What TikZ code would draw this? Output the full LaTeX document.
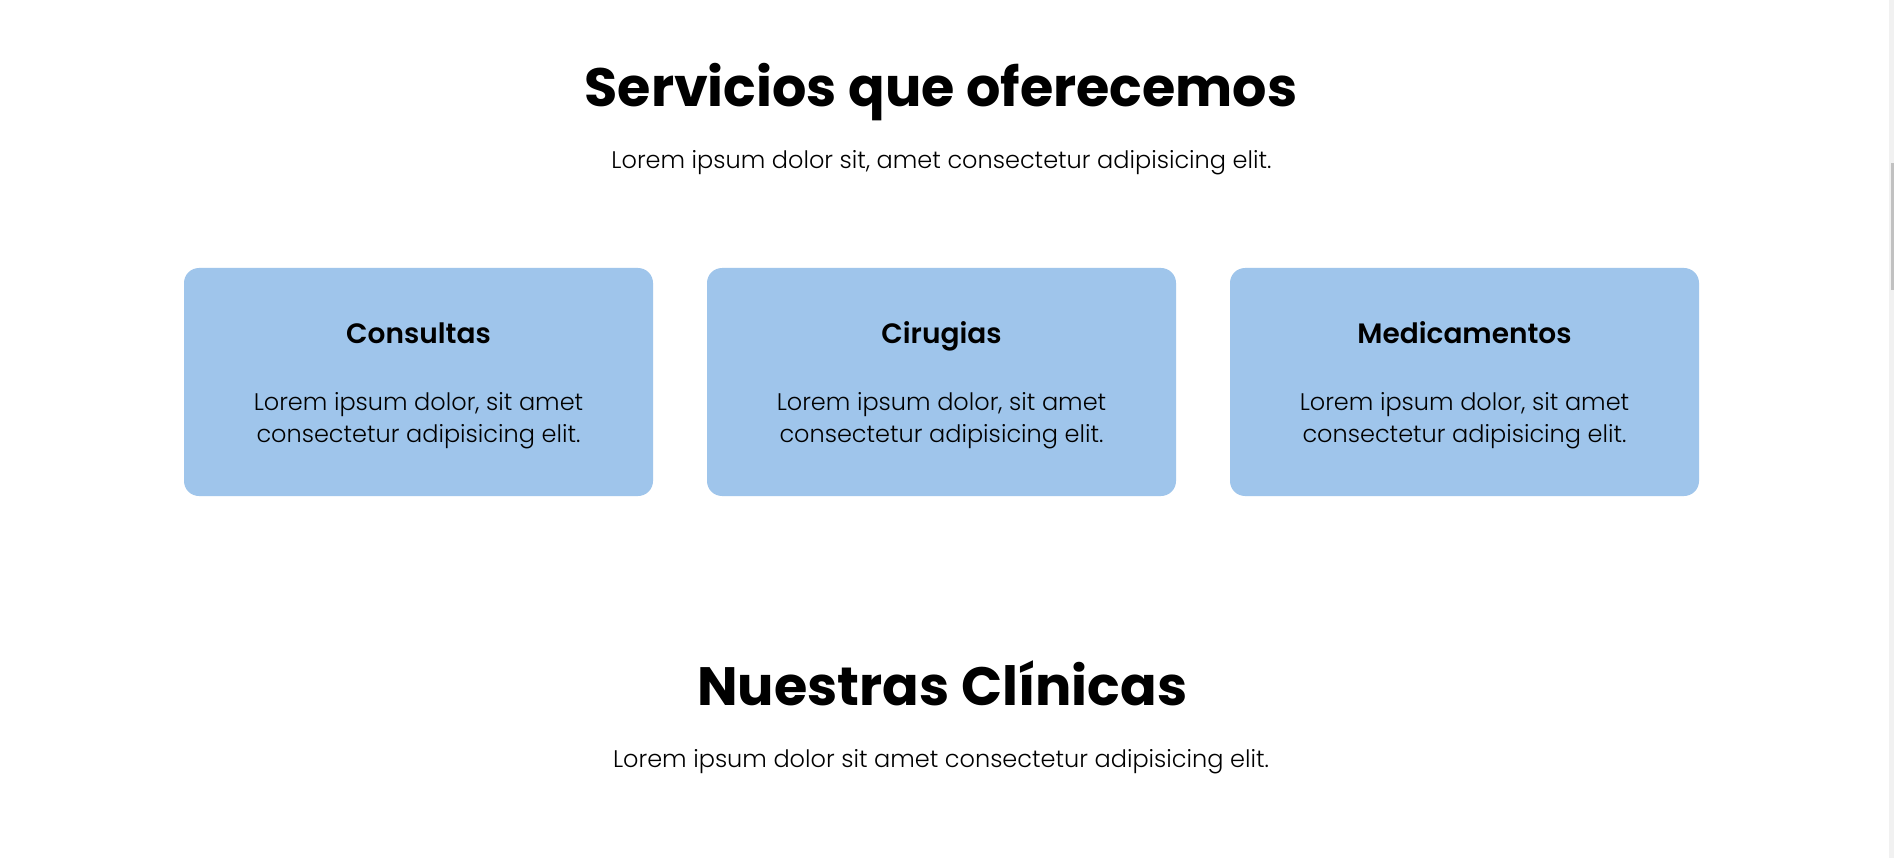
\documentclass[tikz,border=0pt]{standalone}
\usepackage{fontspec}
\setmainfont{Poppins}[UprightFont=* Light, BoldFont=* Bold]
\newfontfamily\semifont{Poppins SemiBold}
\definecolor{cardblue}{HTML}{9FC5EB}
\definecolor{track}{HTML}{F1F1F1}
\definecolor{thumb}{HTML}{C1C1C1}
\tikzset{
  card/.style={fill=cardblue, draw=none, rounded corners=15pt, minimum width=469pt, minimum height=228pt, inner sep=0pt},
  bigtitle/.style={anchor=base, inner sep=0pt, font=\fontsize{54}{60}\selectfont\bfseries},
  subtitle/.style={anchor=base, inner sep=0pt, font=\fontsize{24}{30}\selectfont},
  cardhead/.style={anchor=base, inner sep=0pt, font=\fontsize{28}{34}\semifont},
  cardtext/.style={anchor=base, inner sep=0pt, align=center, font=\fontsize{24}{32.3}\selectfont},
}
\begin{document}
\begin{tikzpicture}[x=1pt,y=-1pt]
\useasboundingbox[fill=white] (0,0) rectangle (1894,858);
% scrollbar
\fill[track] (1889,0) rectangle (1894,858);
\fill[thumb] (1890.7,163) rectangle (1893.5,290);
% section 1
\node[bigtitle] (t1) at (941,107) {Servicios que oferecemos};
\node[subtitle] (s1) at (941.5,169) {Lorem ipsum dolor sit, amet consectetur adipisicing elit.};
\node[card] (c1) at (418.5,382) {};
\node[card] (c2) at (941.5,382) {};
\node[card] (c3) at (1464.5,382) {};
\node[cardhead] (h1) at (418.5,343) {Consultas};
\node[cardhead] (h2) at (941.5,343) {Cirugias};
\node[cardhead] (h3) at (1464.5,343) {Medicamentos};
\node[cardtext] (b1) at (418.5,442.5) {Lorem ipsum dolor, sit amet\\consectetur adipisicing elit.};
\node[cardtext] (b2) at (941.5,442.5) {Lorem ipsum dolor, sit amet\\consectetur adipisicing elit.};
\node[cardtext] (b3) at (1464.5,442.5) {Lorem ipsum dolor, sit amet\\consectetur adipisicing elit.};
% section 2
\node[bigtitle] (t2) at (942.3,705.7) {Nuestras Clínicas};
\node[subtitle] (s2) at (941,767.7) {Lorem ipsum dolor sit amet consectetur adipisicing elit.};
\end{tikzpicture}
\end{document}
